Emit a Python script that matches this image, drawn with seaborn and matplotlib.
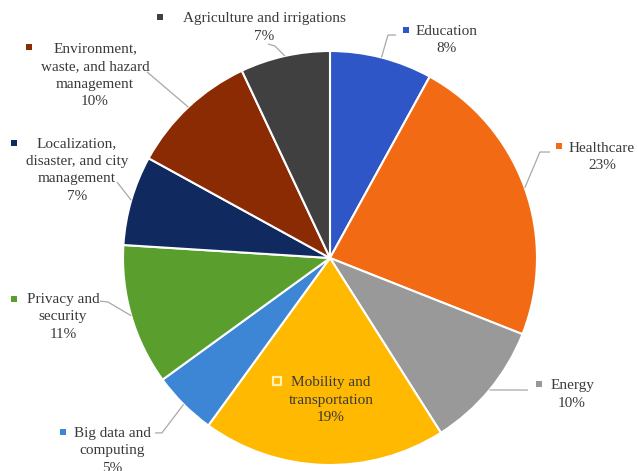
import numpy as np
import matplotlib
matplotlib.use("Agg")
import matplotlib.pyplot as plt
import seaborn as sns

# Application domains and their shares (%)
categories = [
    "Education",
    "Healthcare",
    "Energy",
    "Mobility and\ntransportation",
    "Big data and\ncomputing",
    "Privacy and\nsecurity",
    "Localization,\ndisaster, and city\nmanagement",
    "Environment,\nwaste, and hazard\nmanagement",
    "Agriculture and irrigations",
]
shares = [8, 23, 10, 19, 5, 11, 7, 10, 7]
colors = ["#2E56C6", "#F26B14", "#999999", "#FFB900", "#3D86D6",
          "#5A9E2E", "#10295E", "#8A2B03", "#404040"]

# Label block centres, legend-square positions and leader-line paths (axes data units)
label_pos = [(0.565, 1.053), (1.314, 0.488), (1.169, -0.659), (0.005, -0.686),
             (-1.053, -0.932), (-1.290, -0.285), (-1.222, 0.425),
             (-1.135, 0.882), (-0.319, 1.113)]
marker_pos = [(0.367, 1.101), (1.106, 0.541), (1.010, -0.609), (-0.256, -0.594),
              (-1.290, -0.841), (-1.527, -0.198), (-1.527, 0.556),
              (-1.454, 1.019), (-0.821, 1.164)]
leader_tail = [
    [(0.280, 1.077), (0.319, 1.077)],
    [(1.014, 0.512), (1.063, 0.512)],
    [(0.957, -0.638)],
    None,
    [(-0.812, -0.845), (-0.845, -0.845)],
    [(-1.072, -0.213), (-1.111, -0.208)],
    [(-1.029, 0.367)],
    [(-0.884, 0.899)],
    [(-0.266, 1.024), (-0.300, 1.034)],
]

sns.set_theme(style="white")
plt.rcParams["font.family"] = ["Liberation Serif", "DejaVu Serif"]

W, H, DPI = 638, 471, 100
fig = plt.figure(figsize=(W / DPI, H / DPI), dpi=DPI)
ax = fig.add_axes([0, 0, 1, 1])

wedges, _ = ax.pie(
    shares,
    colors=colors,
    startangle=90,
    counterclock=False,
    radius=1.0,
    wedgeprops=dict(edgecolor="white", linewidth=1.5),
)

# pie centre sits at (330, 258) px with a 207 px radius
cx, cy, r = 330, 258, 207
ax.set_xlim(-cx / r, (W - cx) / r)
ax.set_ylim(-(H - cy) / r, cy / r)
ax.set_aspect("equal", adjustable="box")
ax.axis("off")

text_color = "#3A3A3A"
cum = np.cumsum([0] + shares)
for i, (name, val) in enumerate(zip(categories, shares)):
    lx, ly = label_pos[i]
    ax.text(lx, ly, f"{name}\n{val}%", ha="center", va="center",
            fontsize=11, color=text_color, linespacing=1.45)
    mx, my = marker_pos[i]
    if i == 3:
        ax.scatter([mx], [my], marker="s", s=34, color=colors[i],
                   edgecolors="#FFF3B8", linewidths=1.6, zorder=5)
    else:
        ax.scatter([mx], [my], marker="s", s=13, color=colors[i],
                   linewidths=0, zorder=5)
    if leader_tail[i] is not None:
        mid = np.deg2rad(90 - 360 * (cum[i] + val / 2) / 100)
        pts = [(np.cos(mid) * 1.0, np.sin(mid) * 1.0)] + leader_tail[i]
        xs, ys = zip(*pts)
        ax.plot(xs, ys, color="#A8A8A8", lw=0.9, zorder=4, solid_capstyle="butt")

fig.savefig("out.png", dpi=DPI, facecolor="white")
